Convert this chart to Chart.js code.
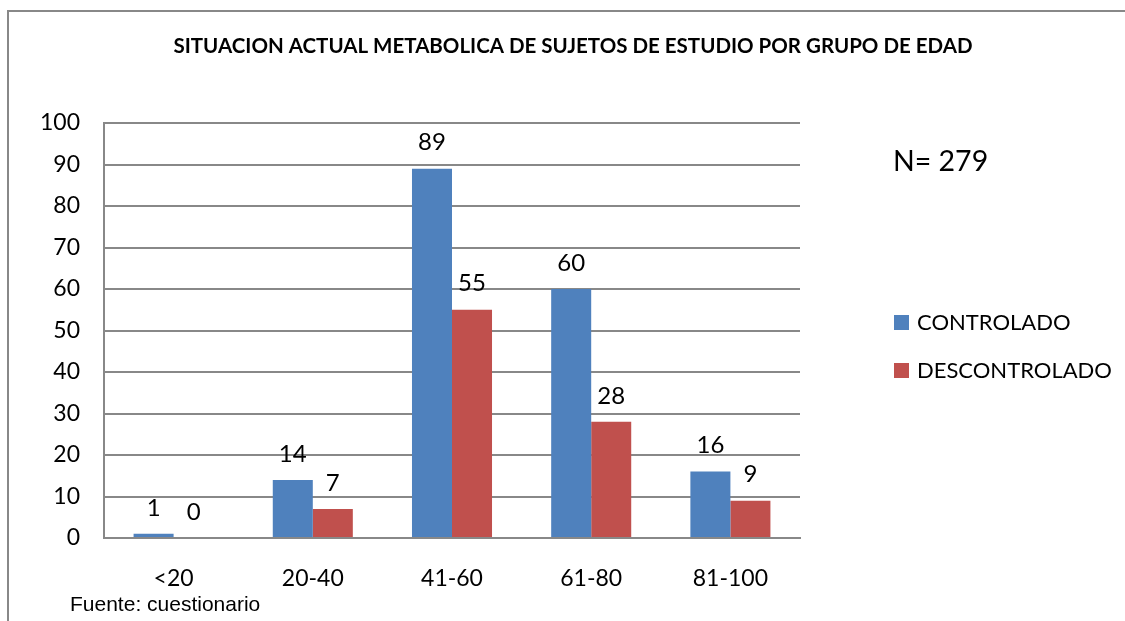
<!DOCTYPE html>
<html>
<head>
<meta charset="utf-8">
<script src="https://cdn.jsdelivr.net/npm/chart.js@4/dist/chart.umd.min.js"></script>
<style>
  html, body { margin: 0; padding: 0; background: #fff; }
  #wrap { width: 1125px; height: 621px; position: relative; }
</style>
</head>
<body>
<div id="wrap"><canvas id="grafico" width="1125" height="621"></canvas></div>
<script>
// Datos
const gruposEdad = ['<20', '20-40', '41-60', '61-80', '81-100'];
const controlado = [1, 14, 89, 60, 16];
const descontrolado = [0, 7, 55, 28, 9];
const nombresSeries = ['CONTROLADO', 'DESCONTROLADO'];
const coloresSeries = ['#4F81BD', '#C0504D'];

const titulo = 'SITUACION ACTUAL METABOLICA DE SUJETOS DE ESTUDIO POR GRUPO DE EDAD';
const notaN = 'N= 279';
const fuente = 'Fuente: cuestionario';

const FUENTE_TEXTO = "Lato, 'Open Sans', sans-serif";

// Etiquetas, leyenda, título y marco
const decoraciones = {
    id: 'decoraciones',
    afterDatasetsDraw(chart) {
        const ctx = chart.ctx;
        ctx.save();
        ctx.fillStyle = '#000';
        ctx.font = '24px ' + FUENTE_TEXTO;
        ctx.textAlign = 'center';
        ctx.textBaseline = 'middle';
        chart.data.datasets.forEach((ds, i) => {
            chart.getDatasetMeta(i).data.forEach((bar, j) => {
                ctx.fillText(String(ds.data[j]), bar.x, bar.y - 26);
            });
        });
        ctx.restore();
    },
    afterDraw(chart) {
        const ctx = chart.ctx;
        ctx.save();
        // marco exterior
        ctx.strokeStyle = '#888';
        ctx.lineWidth = 2;
        ctx.beginPath();
        ctx.moveTo(8, 630);
        ctx.lineTo(8, 11);
        ctx.lineTo(1130, 11);
        ctx.stroke();

        ctx.fillStyle = '#000';
        ctx.textBaseline = 'middle';
        ctx.textAlign = 'center';
        ctx.font = 'bold 20.5px ' + FUENTE_TEXTO;
        ctx.fillText(titulo, 573, 46);

        ctx.textAlign = 'left';
        ctx.font = '28.5px ' + FUENTE_TEXTO;
        ctx.fillText(notaN, 893, 162);

        // leyenda
        ctx.font = '22px ' + FUENTE_TEXTO;
        nombresSeries.forEach((n, i) => {
            const y = 322 + i * 48;
            ctx.fillStyle = coloresSeries[i];
            ctx.fillRect(894, y - 7, 15, 15);
            ctx.fillStyle = '#000';
            ctx.fillText(n, 917, y + 1);
        });

        ctx.font = "21px 'Liberation Sans', Arial, sans-serif";
        ctx.fillText(fuente, 70, 605);
        ctx.restore();
    }
};

new Chart(document.getElementById('grafico'), {
    type: 'bar',
    data: {
        labels: gruposEdad,
        datasets: [
            { label: nombresSeries[0], data: controlado, backgroundColor: coloresSeries[0] },
            { label: nombresSeries[1], data: descontrolado, backgroundColor: coloresSeries[1] }
        ]
    },
    options: {
        responsive: false,
        animation: false,
        layout: { padding: { left: 0, right: 325, top: 123, bottom: 0 } },
        datasets: { bar: { categoryPercentage: 0.575, barPercentage: 1 } },
        plugins: {
            legend: { display: false },
            title: { display: false },
            tooltip: { enabled: false }
        },
        scales: {
            x: {
                grid: { display: false, drawTicks: false },
                border: { color: '#888', width: 2 },
                ticks: { color: '#000', padding: 27, font: { size: 23, family: FUENTE_TEXTO } },
                afterFit(scale) { scale.height = 83; }
            },
            y: {
                min: 0,
                max: 100,
                grid: { color: '#888', lineWidth: 2, drawTicks: false },
                border: { color: '#888', width: 2 },
                ticks: { stepSize: 10, color: '#000', padding: 24, font: { size: 23, family: FUENTE_TEXTO } },
                afterFit(scale) { scale.width = 104; }
            }
        }
    },
    plugins: [decoraciones]
});
</script>
</body>
</html>
